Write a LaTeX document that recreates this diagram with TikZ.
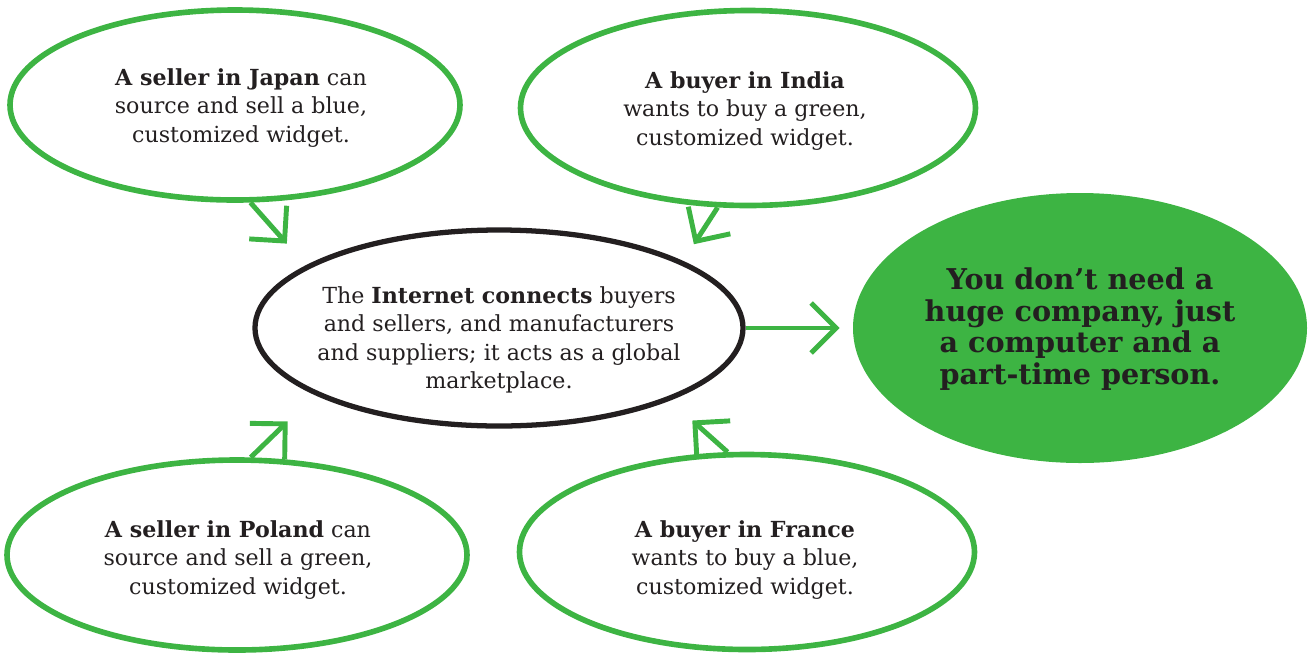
\documentclass[tikz,border=0pt]{standalone}
\usepackage{fontspec}
\setmainfont{DejaVu Serif}
\usetikzlibrary{arrows.meta,positioning,shapes.geometric}
\definecolor{leaf}{HTML}{3DB443}
\definecolor{ink}{HTML}{231F20}
\tikzset{
  bubble/.style={ellipse, draw=leaf, line width=3.2pt, inner sep=0pt},
  hub/.style={ellipse, draw=ink, line width=3pt, inner sep=0pt},
  goal/.style={ellipse, fill=leaf, inner sep=0pt},
  says/.style={align=center, inner sep=0pt, text=ink,
               font=\fontsize{12.6}{16.2}\selectfont},
  shout/.style={align=center, inner sep=0pt, text=ink,
                font=\fontsize{16.3}{17.9}\selectfont\bfseries},
  link/.style={-{Straight Barb[length=5mm,width=10mm]}, draw=leaf,
               line width=2.8pt},
}

\begin{document}
\begin{tikzpicture}[x=0.2mm,y=-0.2mm]
  \useasboundingbox (0,0) rectangle (1310,657);

  % the outlines
  \node[hub, minimum width=9.76cm, minimum height=3.92cm] (net) at (499,328) {};
  \node[goal, minimum width=9.08cm, minimum height=5.4cm] (need) at (1080,328) {};
  \node[bubble, minimum width=9cm, minimum height=3.8cm] (japan) at (235,105) {};
  \node[bubble, minimum width=9.1cm, minimum height=3.9cm] (india) at (748,108) {};
  \node[bubble, minimum width=9.2cm, minimum height=3.8cm] (poland) at (237,555) {};
  \node[bubble, minimum width=9.1cm, minimum height=3.9cm] (france) at (747,552) {};

  % the texts
  \node[says] (net-txt) at (499,340)
       {The \textbf{Internet connects} buyers\\and sellers, and manufacturers\\
        and suppliers; it acts as a global\\marketplace.};
  \node[shout] (need-txt) at (1080,329)
       {You don't need a\\huge company, just\\a computer and a\\part-time person.};
  \node[says] (japan-txt) at (241,108)
       {\textbf{A seller in Japan} can\\source and sell a blue,\\customized widget.};
  \node[says] (india-txt) at (745,111)
       {\textbf{A buyer in India}\\wants to buy a green,\\customized widget.};
  \node[says] (poland-txt) at (238,560)
       {\textbf{A seller in Poland} can\\source and sell a green,\\customized widget.};
  \node[says] (france-txt) at (745,560)
       {\textbf{A buyer in France}\\wants to buy a blue,\\customized widget.};

  % everything points at the marketplace
  \draw[link, shorten >=5.8mm] (japan.-81) -- (net.162);
  \draw[link, shorten >=4mm] (india.-107) -- (net.20);
  \draw[link, shorten >=7.6mm] (poland.82) -- (net.-160);
  \draw[link, shorten >=6mm] (france.101) -- (net.-23);
  \draw[link, shorten >=2.6mm] (net.east) -- (need.west);
\end{tikzpicture}
\end{document}
